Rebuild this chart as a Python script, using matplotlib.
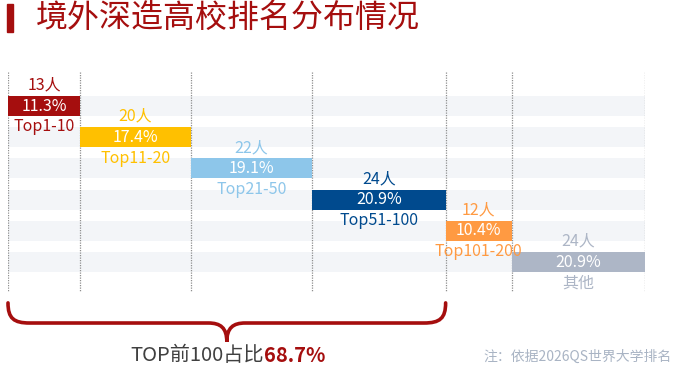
import numpy as np
import matplotlib.pyplot as plt
from matplotlib.patches import Rectangle, PathPatch
from matplotlib.path import Path

plt.rcParams['font.family'] = ['Noto Sans CJK SC', 'DejaVu Sans']

# data
groups = ['Top1-10', 'Top11-20', 'Top21-50', 'Top51-100', 'Top101-200', '其他']
counts = [13, 20, 22, 24, 12, 24]
shares = [11.3, 17.4, 19.1, 20.9, 10.4, 20.9]
colors = ['#A50E0E', '#FFC000', '#8DC6EA', '#004A8E', '#FF9A42', '#ADB6C6']
top_n = 4  # first four groups make up TOP100
top_share = 68.7

RED = '#A50E0E'
rows = np.arange(len(groups))
lefts = np.concatenate([[0], np.cumsum(shares)[:-1]])
edges = np.concatenate([[0], np.cumsum(shares)])

fig = plt.figure(figsize=(6.78, 3.67), dpi=100)
ax = fig.add_axes([8 / 678, 0, 637 / 678, 295 / 367])
ax.set_xlim(0, 100)
ax.set_ylim(8.365, -1.09)
ax.axis('off')

bh = 0.64
# background stripes
ax.barh(rows, edges[-1], left=0, height=bh, color='#F3F5F8', zorder=0)
# dotted separators
ax.vlines(edges, -1.09, 5.93, colors='#8F8F8F', linestyles=(0, (1, 1)), lw=0.9, zorder=1)
# bars
ax.barh(rows, shares, left=lefts, height=bh, color=colors, zorder=2)

for r, l, w, n, g, c in zip(rows, lefts, shares, counts, groups, colors):
    cx = l + w / 2
    ax.text(cx, r - 0.67, f'{n}人', color=c, ha='center', va='center', fontsize=11.5)
    ax.text(cx, r, f'{w:.1f}%', color='white', ha='center', va='center', fontsize=11.5, zorder=3)
    ax.text(cx, r + 0.67, g, color=c, ha='center', va='center', fontsize=11.5)

# brace under the TOP100 groups
x0, x1 = 0, edges[top_n]
xm = (x0 + x1) / 2
ya, yb, yc = 6.31, 6.955, 7.56
kx = 3.4
verts = [(x0, ya), (x0, yb - 0.15), (x0 + 0.9, yb), (x0 + kx, yb),
         (xm - kx + 0.5, yb),
         (xm - 1.0, yb), (xm, yb + 0.15), (xm, yc),
         (xm, yb + 0.15), (xm + 1.0, yb), (xm + kx - 0.5, yb),
         (x1 - kx, yb),
         (x1 - 0.9, yb), (x1, yb - 0.15), (x1, ya)]
codes = [Path.MOVETO, Path.CURVE4, Path.CURVE4, Path.CURVE4,
         Path.LINETO,
         Path.CURVE4, Path.CURVE4, Path.CURVE4,
         Path.CURVE4, Path.CURVE4, Path.CURVE4,
         Path.LINETO,
         Path.CURVE4, Path.CURVE4, Path.CURVE4]
ax.add_patch(PathPatch(Path(verts, codes), fill=False, edgecolor=RED, lw=2.6,
                       capstyle='round', clip_on=False))

ax.text(40.2, 8.0, 'TOP前100占比', color='#404040', ha='right', va='center', fontsize=14.5)
ax.text(40.2, 8.0, f'{top_share}%', color=RED, ha='left', va='center', fontsize=14.5,
        fontweight='bold')

# title
fig.add_artist(Rectangle((7 / 678, 1 - 32 / 367), 6 / 678, 28 / 367,
                         transform=fig.transFigure, color=RED))
fig.text(36 / 678, 1 - 18 / 367, '境外深造高校排名分布情况', color=RED, fontsize=23,
         ha='left', va='center')

fig.text(672 / 678, 1 - 357 / 367, '注：依据2026QS世界大学排名', color='#A9B4C4',
         fontsize=10, ha='right', va='center')

fig.savefig('out.png', dpi=100, facecolor='white')
